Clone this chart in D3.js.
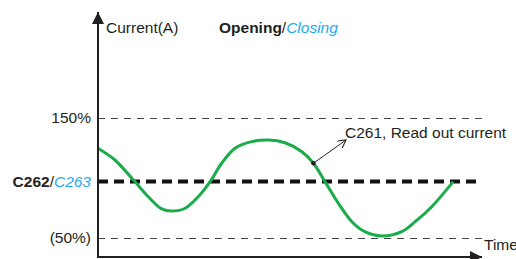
<!DOCTYPE html>
<html><head><meta charset="utf-8">
<script src="https://cdn.jsdelivr.net/npm/d3@7"></script>
<style>body{margin:0;background:#fff}svg{display:block}text{font-family:"Liberation Sans",Arial,sans-serif}</style>
</head><body>
<script>
// Data (time in arbitrary units 0..100, current in % of nominal)
const curveTime    = [0, 4.4, 9.6, 13.1, 16.6, 19.2, 22.7, 26.1, 29.2, 32.2, 35.7, 40.0, 44.4, 48.7, 53.1, 56.1, 59.1, 62.6, 66.1, 69.5, 73.9, 79.1, 82.6, 86.9, 92.5];
const curveCurrent = [124.8, 115, 97, 84.4, 74.2, 72.5, 74.8, 84.4, 97, 112.3, 124.8, 130.3, 131.7, 129.4, 121.9, 112.3, 97, 78.9, 63.6, 55.3, 51.7, 55.3, 63.6, 76.1, 97];
const refLevels    = [150, 50];
const refLabels    = ["150%", "(50%)"];
const setLevel     = 97;
const markerTime   = 56.1;

const W = 516, H = 259;
const svg = d3.select("body").append("svg").attr("width", W).attr("height", H);

const x = d3.scaleLinear().domain([0, 100]).range([98, 482]);
const y = d3.scaleLinear().domain([50, 150]).range([238, 118]);
const x0 = 98, yBottom = 257, yTop = 12, xRight = 482;
const dark = "#231f20", blue = "#1ea9ee", green = "#1aab4a";

// reference dashed lines
refLevels.forEach((v, i) => {
  svg.append("line").attr("x1", x0).attr("x2", xRight).attr("y1", y(v) + 0.5).attr("y2", y(v) + 0.5)
    .attr("stroke", "#444").attr("stroke-width", 1).attr("stroke-dasharray", "7,6");
  svg.append("text").attr("x", 91).attr("y", y(v)).attr("dy", "0.35em").attr("text-anchor", "end")
    .attr("font-size", 15.5).attr("fill", dark).text(refLabels[i]);
});

// setpoint thick dashed line
svg.append("line").attr("x1", x0).attr("x2", xRight).attr("y1", y(setLevel)).attr("y2", y(setLevel))
  .attr("stroke", "#111").attr("stroke-width", 4).attr("stroke-dasharray", "10,6");
const sl = svg.append("text").attr("x", 91).attr("y", y(setLevel)).attr("dy", "0.35em").attr("text-anchor", "end")
  .attr("font-size", 15.5);
sl.append("tspan").attr("font-weight", "bold").attr("fill", dark).text("C262");
sl.append("tspan").attr("fill", dark).text("/");
sl.append("tspan").attr("font-style", "italic").attr("fill", blue).text("C263");

// curve
const pts = curveTime.map((t, i) => [t, curveCurrent[i]]);
const path = svg.append("path").datum(pts)
  .attr("d", d3.line().x(d => x(d[0])).y(d => y(d[1])).curve(d3.curveCatmullRom.alpha(0.5)))
  .attr("fill", "none").attr("stroke", green).attr("stroke-width", 3);

// axes
const defs = svg.append("defs");
defs.append("marker").attr("id", "big").attr("viewBox", "0 0 10 10").attr("refX", 10).attr("refY", 5)
  .attr("markerWidth", 12).attr("markerHeight", 12).attr("markerUnits", "userSpaceOnUse").attr("orient", "auto")
  .append("path").attr("d", "M0,0L10,5L0,10Z").attr("fill", dark);
defs.append("marker").attr("id", "open").attr("viewBox", "0 0 10 10").attr("refX", 9).attr("refY", 5)
  .attr("markerWidth", 9).attr("markerHeight", 9).attr("markerUnits", "userSpaceOnUse").attr("orient", "auto")
  .append("path").attr("d", "M0,0L9,5L0,10").attr("fill", "none").attr("stroke", dark).attr("stroke-width", 1.2);

svg.append("line").attr("x1", x0).attr("x2", x0).attr("y1", yBottom + 1).attr("y2", yTop)
  .attr("stroke", dark).attr("stroke-width", 2).attr("marker-end", "url(#big)");
svg.append("line").attr("x1", x0 - 1).attr("x2", xRight).attr("y1", yBottom).attr("y2", yBottom)
  .attr("stroke", dark).attr("stroke-width", 2).attr("marker-end", "url(#big)");

svg.append("text").attr("x", 106).attr("y", 28).attr("dy", "0.35em").attr("font-size", 15.5).attr("fill", dark).text("Current(A)");
svg.append("text").attr("x", 484).attr("y", 245).attr("dy", "0.35em").attr("font-size", 15.5).attr("fill", dark).text("Time");

const tt = svg.append("text").attr("x", 219).attr("y", 28).attr("dy", "0.35em").attr("font-size", 15.5);
tt.append("tspan").attr("font-weight", "bold").attr("fill", dark).text("Opening");
tt.append("tspan").attr("fill", dark).text("/");
tt.append("tspan").attr("font-style", "italic").attr("fill", blue).text("Closing");

// annotation: marker placed on the curve at markerTime
const node = path.node(), total = node.getTotalLength();
const tx = x(markerTime);
let lo = 0, hi = total;
for (let k = 0; k < 40; k++) { const mid = (lo + hi) / 2; if (node.getPointAtLength(mid).x < tx) lo = mid; else hi = mid; }
const mp = node.getPointAtLength(lo);
const mx = mp.x, my = mp.y;
svg.append("circle").attr("cx", mx).attr("cy", my).attr("r", 2.2).attr("fill", dark);
svg.append("line").attr("x1", mx).attr("y1", my).attr("x2", 346).attr("y2", 140)
  .attr("stroke", dark).attr("stroke-width", 1).attr("marker-end", "url(#open)");
svg.append("text").attr("x", 345).attr("y", 133).attr("dy", "0.35em").attr("font-size", 15.5).attr("fill", dark)
  .text("C261, Read out current");
</script>
</body></html>
